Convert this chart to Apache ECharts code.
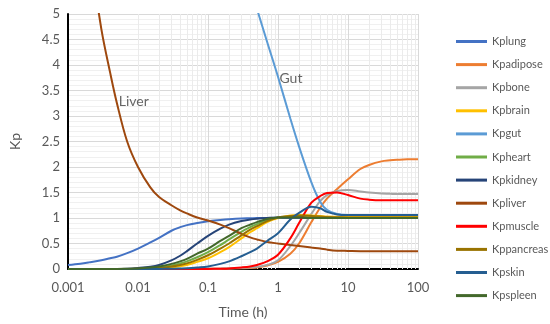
<!DOCTYPE html>
<html><head><meta charset="utf-8">
<script src="https://cdn.jsdelivr.net/npm/echarts@6/dist/echarts.min.js"></script>
<style>html,body{margin:0;padding:0;background:#fff}#c{width:550px;height:324px}</style>
</head><body><div id="c"></div>
<script>
// Time points (h)
var times = [0.001,0.0015,0.002,0.003,0.004,0.005,0.007,
             0.01,0.015,0.02,0.03,0.04,0.05,0.07,
             0.1,0.15,0.2,0.3,0.4,0.5,0.7,
             1,1.5,2,3,4,5,7,
             10,15,20,30,40,50,70,100];
var seriesNames = ['Kplung','Kpadipose','Kpbone','Kpbrain','Kpgut','Kpheart','Kpkidney','Kpliver','Kpmuscle','Kppancreas','Kpskin','Kpspleen'];
var Kplung     = [0.08,0.105,0.13,0.17,0.21,0.24,0.31, 0.40,0.52,0.61,0.75,0.82,0.86,0.90, 0.935,0.96,0.975,0.99,0.995,1.0,1.0, 1,1,1,1,1,1,1, 1,1,1,1,1,1,1,1];
var Kpadipose  = [0,0,0,0,0,0,0, 0,0,0,0,0,0,0.002, 0.004,0.007,0.01,0.015,0.02,0.03,0.07, 0.14,0.30,0.50,0.92,1.20,1.38,1.57, 1.76,1.96,2.04,2.11,2.13,2.14,2.15,2.15];
var Kpbone     = [0,0,0,0,0,0,0, 0,0,0,0,0,0,0.002, 0.004,0.007,0.01,0.02,0.03,0.04,0.08, 0.17,0.45,0.70,1.08,1.33,1.45,1.53, 1.55,1.52,1.50,1.48,1.475,1.47,1.47,1.47];
var Kpbrain    = [0,0,0,0,0,0,0, 0.001,0.005,0.01,0.03,0.055,0.08,0.14, 0.21,0.33,0.43,0.60,0.72,0.80,0.92, 1.00,1.05,1.06,1.05,1.04,1.03,1.025, 1.02,1.02,1.02,1.02,1.02,1.02,1.02,1.02];
var Kpgut      = [12,11.6,11.2,10.7,10.3,10,9.5, 9,8.6,8.3,7.9,7.6,7.4,7.1, 6.8,6.5,6.3,6.0,5.5,5.1,4.45, 3.77,2.95,2.40,1.70,1.32,1.16,1.08, 1.06,1.06,1.06,1.06,1.06,1.06,1.06,1.06];
var Kpheart    = [0,0,0,0,0,0,0, 0.005,0.015,0.03,0.07,0.11,0.15,0.23, 0.33,0.47,0.58,0.73,0.82,0.88,0.96, 1.01,1.02,1.02,1.01,1.01,1.01,1.0, 1,1,1,1,1,1,1,1];
var Kpkidney   = [0,0,0,0,0,0,0.005, 0.02,0.045,0.08,0.17,0.26,0.35,0.50, 0.65,0.79,0.87,0.94,0.97,0.985,1.0, 1.01,1.01,1.01,1.0,1.0,1.0,1.0, 1,1,1,1,1,1,1,1];
var Kpliver    = [9,7.2,6.3,4.7,3.85,3.25,2.5, 2.0,1.6,1.41,1.25,1.15,1.09,1.01, 0.95,0.87,0.80,0.69,0.62,0.58,0.53, 0.50,0.47,0.45,0.42,0.40,0.38,0.36, 0.355,0.35,0.35,0.35,0.35,0.35,0.35,0.35];
var Kpmuscle   = [0,0,0,0,0,0,0, 0,0,0,0,0,0,0, 0.002,0.005,0.01,0.03,0.05,0.08,0.15, 0.28,0.60,0.90,1.30,1.43,1.49,1.50, 1.45,1.38,1.36,1.35,1.35,1.35,1.35,1.35];
var Kppancreas = [0,0,0,0,0,0,0, 0.003,0.01,0.02,0.05,0.08,0.11,0.18, 0.27,0.40,0.50,0.66,0.77,0.84,0.94, 1.01,1.04,1.05,1.04,1.03,1.02,1.015, 1.01,1.01,1.01,1.01,1.01,1.01,1.01,1.01];
var Kpskin     = [0,0,0,0,0,0,0, 0,0,0.002,0.005,0.01,0.015,0.03, 0.05,0.10,0.15,0.25,0.33,0.40,0.55, 0.70,0.97,1.10,1.22,1.19,1.12,1.07, 1.06,1.06,1.06,1.06,1.06,1.06,1.06,1.06];
var Kpspleen   = [0,0,0,0,0,0,0.005, 0.01,0.03,0.05,0.10,0.15,0.20,0.30, 0.40,0.55,0.65,0.80,0.87,0.92,0.98, 1.01,1.01,1.01,1.0,1.0,1.0,1.0, 1,1,1,1,1,1,1,1];
var colors = ['#4472C4','#ED7D31','#A5A5A5','#FFC000','#5B9BD5','#70AD47','#264478','#9E480E','#FF0000','#997300','#255E91','#43682B'];
var xTickLabels = ['0.001','0.01','0.1','1','10','100'];
var yTicks = [0,0.5,1,1.5,2,2.5,3,3.5,4,4.5,5];
var annotations = [{name:'Liver', t:0.0053, v:3.28}, {name:'Gut', t:1.05, v:3.73}];

var valueArrays = [Kplung,Kpadipose,Kpbone,Kpbrain,Kpgut,Kpheart,Kpkidney,Kpliver,Kpmuscle,Kppancreas,Kpskin,Kpspleen];
var FONT = 'Lato, "Open Sans", sans-serif';
// minor log gridlines (2..9 within each decade)
var minorX = [];
for (var k = -3; k <= 1; k++) for (var m = 2; m <= 9; m++) minorX.push({xAxis: +(m*Math.pow(10,k)).toPrecision(3)});

var series = [{
  type:'line', data:[], silent:true, z:1,
  markLine:{silent:true, z:1, symbol:'none', label:{show:false}, animation:false,
    lineStyle:{color:'#EBEBEB', type:'solid', width:1}, data:minorX}
}];
seriesNames.forEach(function(n,i){
  series.push({
    name:n, type:'line', smooth:0.35, showSymbol:false, symbol:'none', z:3,
    lineStyle:{width:2, color:colors[i]}, itemStyle:{color:colors[i]},
    data: times.map(function(t,j){return [t, valueArrays[i][j]];})
  });
});
annotations.forEach(function(a){
  series.push({type:'scatter', symbolSize:0, silent:true, z:4,
    data:[[a.t,a.v]],
    label:{show:true, position:'right', distance:0, formatter:a.name, fontFamily:FONT, fontSize:14, color:'#404040'}});
});

var chart = echarts.init(document.getElementById('c'), null, {renderer:'canvas'});
chart.setOption({
  animation:false,
  color:colors,
  grid:{left:58, right:132, top:14, bottom:54, containLabel:false},
  legend:{
    orient:'vertical', left:451, top:31, itemWidth:31, itemHeight:3, itemGap:12.1,
    icon:'rect', data:seriesNames,
    textStyle:{fontFamily:FONT, fontSize:11, color:'#595959'}
  },
  xAxis:{
    type:'log', logBase:10, min:0.001, max:100,
    name:'Time (h)', nameLocation:'middle', nameGap:36,
    nameTextStyle:{fontFamily:FONT, fontSize:14, color:'#595959'},
    axisLine:{show:true, onZero:false, lineStyle:{color:'#000', width:2}},
    axisTick:{show:false},
    axisLabel:{fontFamily:FONT, fontSize:13, color:'#595959', margin:12,
      formatter:function(v){var i=Math.round(Math.log10(v))+3; return xTickLabels[i]!==undefined?xTickLabels[i]:'';}},
    splitLine:{show:true, lineStyle:{color:'#D9D9D9', width:1}}
  },
  yAxis:{
    type:'value', min:yTicks[0], max:yTicks[yTicks.length-1], interval:0.5,
    name:'Kp', nameLocation:'middle', nameGap:46,
    nameTextStyle:{fontFamily:FONT, fontSize:14, color:'#595959'},
    axisLine:{show:true, lineStyle:{color:'#000', width:2}},
    axisTick:{show:false},
    axisLabel:{fontFamily:FONT, fontSize:13, color:'#595959', margin:8,
      formatter:function(v){return String(v);}},
    splitLine:{show:true, lineStyle:{color:'#D9D9D9', width:1}},
    minorTick:{show:false, splitNumber:5},
    minorSplitLine:{show:true, lineStyle:{color:'#F0F0F0', width:1}}
  },
  series:series
});
</script></body></html>
